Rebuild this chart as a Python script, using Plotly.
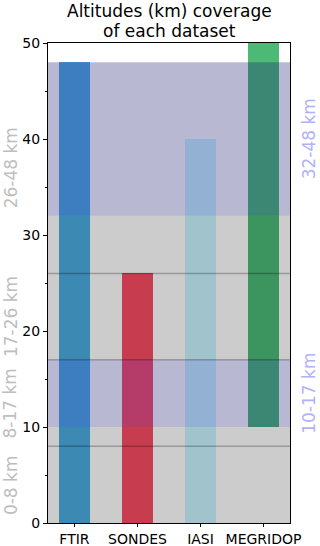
import plotly.graph_objects as go

# Data
datasets = ["FTIR", "SONDES", "IASI", "MEGRIDOP"]
bottoms = [0, 0, 0, 10]
tops = [48, 26, 40, 50]
bar_colors = ["rgb(76,172,226)", "rgb(251,75,100)", "rgb(202,245,255)", "rgb(76,185,118)"]

gray_bands = [(0, 10), (17, 32)]
blue_bands = [(10, 17), (32, 48)]
h_lines = [8, 17, 26]

left_labels = ["0-8 km", "8-17 km", "17-26 km", "26-48 km"]
left_label_pos = [4, 12.5, 21.5, 37]
right_labels = ["10-17 km", "32-48 km"]
right_label_pos = [13.5, 40]

title_lines = ["Altitudes (km) coverage", "of each dataset"]

FONT = "DejaVu Sans"

fig = go.Figure()
fig.add_trace(go.Bar(
    x=datasets,
    y=[t - b for t, b in zip(tops, bottoms)],
    base=bottoms,
    marker=dict(color=bar_colors, line=dict(width=0)),
    width=0.5,
    showlegend=False,
))

shapes = []
for b0, b1 in gray_bands:
    shapes.append(dict(type="rect", xref="x domain", yref="y", x0=0, x1=1, y0=b0, y1=b1,
                       fillcolor="rgba(0,0,0,0.2)", line=dict(width=0), layer="above"))
for b0, b1 in blue_bands:
    shapes.append(dict(type="rect", xref="x domain", yref="y", x0=0, x1=1, y0=b0, y1=b1,
                       fillcolor="rgba(25,25,112,0.31)", line=dict(width=0), layer="above"))
for h in h_lines:
    shapes.append(dict(type="line", xref="x domain", yref="y", x0=0, x1=1, y0=h, y1=h,
                       line=dict(color="rgba(0,0,0,0.25)", width=1.5), layer="above"))

annotations = []
for t, p in zip(left_labels, left_label_pos):
    annotations.append(dict(text=t, xref="paper", yref="y", x=-0.155, y=p, showarrow=False,
                            textangle=-90, font=dict(family=FONT, size=17, color="rgb(190,190,190)"),
                            xanchor="center", yanchor="middle"))
for t, p in zip(right_labels, right_label_pos):
    annotations.append(dict(text=t, xref="paper", yref="y", x=1.08, y=p, showarrow=False,
                            textangle=-90, font=dict(family=FONT, size=17, color="rgb(178,178,250)"),
                            xanchor="center", yanchor="middle"))
for t, py in zip(title_lines, [1.067, 1.026]):
    annotations.append(dict(text=t, xref="paper", yref="paper", x=0.50, y=py, showarrow=False,
                            font=dict(family=FONT, size=17, color="black"),
                            xanchor="center", yanchor="middle"))

fig.update_layout(
    template="none",
    width=320, height=546,
    margin=dict(l=48, r=30, t=43, b=23, autoexpand=False),
    paper_bgcolor="white", plot_bgcolor="white",
    font=dict(family=FONT, size=14, color="black"),
    shapes=shapes,
    annotations=annotations,
    bargap=0,
)
fig.update_xaxes(range=[-0.42, 3.42], showgrid=False, zeroline=False, automargin=False,
                 showline=True, linecolor="black", linewidth=1, mirror=True,
                 ticks="outside", ticklen=3, tickcolor="black",
                 tickfont=dict(family=FONT, size=14))
fig.update_yaxes(range=[0, 50], showgrid=False, zeroline=False, automargin=False,
                 showline=True, linecolor="black", linewidth=1, mirror=True,
                 ticks="outside", ticklen=4, tickcolor="black", dtick=10,
                 tickfont=dict(family=FONT, size=14),
                 minor=dict(dtick=5, ticks="outside", ticklen=2, tickcolor="black"))

fig.write_html("out.html", config={"displayModeBar": False},
               post_script="document.body.style.margin='0px';")
